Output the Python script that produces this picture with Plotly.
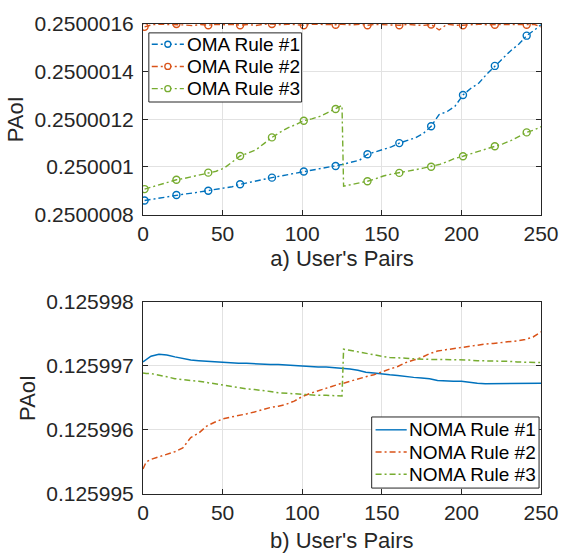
import plotly.graph_objects as go

# ---------------- data: panel a) OMA ----------------
x_top = [1, 6, 11, 16, 21, 26, 31, 36, 41, 46, 51, 56, 61, 66, 71, 76, 81, 86, 91, 96,
         101, 106, 111, 116, 121, 125, 126, 131, 136, 141, 146, 151, 156, 161, 166, 171,
         176, 181, 186, 191, 196, 201, 206, 211, 216, 221, 226, 231, 236, 241, 246, 250]

oma_rule1 = [0.250000859, 0.250000865, 0.250000871, 0.250000877, 0.250000882, 0.250000886,
             0.250000890, 0.250000895, 0.250000900, 0.250000904, 0.250000909, 0.250000917,
             0.250000927, 0.250000935, 0.250000942, 0.250000948, 0.250000955, 0.250000961,
             0.250000967, 0.250000974, 0.250000981, 0.250000986, 0.250000992, 0.250000998,
             0.250001004, 0.250001010, 0.250001012, 0.250001020, 0.250001028, 0.250001053,
             0.250001063, 0.250001072, 0.250001084, 0.250001100, 0.250001110, 0.250001122,
             0.250001140, 0.250001171, 0.250001220, 0.250001232, 0.250001255, 0.250001302,
             0.250001330, 0.250001352, 0.250001390, 0.250001424, 0.250001455, 0.250001488,
             0.250001515, 0.250001551, 0.250001575, 0.250001597]

oma_rule2 = [0.250001588, 0.250001597, 0.250001599, 0.250001598, 0.250001600, 0.250001596,
             0.250001593, 0.250001598, 0.250001595, 0.250001599, 0.250001597, 0.250001599,
             0.250001595, 0.250001598, 0.250001594, 0.250001599, 0.250001600, 0.250001597,
             0.250001599, 0.250001596, 0.250001595, 0.250001599, 0.250001598, 0.250001599,
             0.250001597, 0.250001599, 0.250001598, 0.250001596, 0.250001599, 0.250001595,
             0.250001598, 0.250001597, 0.250001593, 0.250001595, 0.250001598, 0.250001596,
             0.250001594, 0.250001598, 0.250001575, 0.250001599, 0.250001595, 0.250001595,
             0.250001598, 0.250001599, 0.250001597, 0.250001597, 0.250001599, 0.250001598,
             0.250001597, 0.250001597, 0.250001598, 0.250001588]

oma_rule3 = [0.250000907, 0.250000917, 0.250000927, 0.250000937, 0.250000946, 0.250000952,
             0.250000960, 0.250000968, 0.250000976, 0.250000982, 0.250000995, 0.250001020,
             0.250001046, 0.250001058, 0.250001072, 0.250001098, 0.250001124, 0.250001145,
             0.250001164, 0.250001178, 0.250001194, 0.250001202, 0.250001212, 0.250001228,
             0.250001243, 0.250001258, 0.250000919, 0.250000925, 0.250000932, 0.250000940,
             0.250000950, 0.250000962, 0.250000970, 0.250000975, 0.250000980, 0.250000988,
             0.250000995, 0.250001001, 0.250001010, 0.250001022, 0.250001036, 0.250001045,
             0.250001055, 0.250001066, 0.250001076, 0.250001087, 0.250001097, 0.250001110,
             0.250001128, 0.250001145, 0.250001156, 0.250001169]

# ---------------- data: panel b) NOMA ----------------
x_bot = [0, 2, 5, 10, 15, 20, 25, 30, 35, 40, 45, 50, 55, 60, 65, 70, 75, 80, 85, 90, 95,
         100, 105, 110, 115, 120, 125, 126, 130, 135, 140, 145, 150, 155, 160, 165, 170,
         175, 180, 185, 190, 195, 200, 205, 210, 215, 220, 225, 230, 235, 240, 245, 250]

noma_rule1 = [0.12599706, 0.12599710, 0.12599715, 0.12599718, 0.12599717, 0.12599714,
              0.12599711, 0.12599709, 0.12599708, 0.12599707, 0.12599706, 0.12599705,
              0.12599705, 0.12599704, 0.12599704, 0.12599703, 0.12599703, 0.12599702,
              0.12599702, 0.12599701, 0.12599700, 0.12599699, 0.12599699, 0.12599698,
              0.12599698, 0.12599697, 0.12599696, 0.12599696, 0.12599695, 0.12599693,
              0.12599690, 0.12599689, 0.12599687, 0.12599686, 0.12599685, 0.12599683,
              0.12599682, 0.12599681, 0.12599680, 0.12599677, 0.12599676, 0.12599676,
              0.12599676, 0.12599674, 0.12599673, 0.12599672, 0.12599672, 0.12599672,
              0.12599672, 0.12599673, 0.12599673, 0.12599673, 0.12599673]

noma_rule2 = [0.12599539, 0.12599550, 0.12599554, 0.12599558, 0.12599562, 0.12599566,
              0.12599572, 0.12599588, 0.12599595, 0.12599606, 0.12599612, 0.12599617,
              0.12599620, 0.12599622, 0.12599625, 0.12599628, 0.12599632, 0.12599635,
              0.12599637, 0.12599640, 0.12599645, 0.12599652, 0.12599657, 0.12599661,
              0.12599666, 0.12599670, 0.12599673, 0.12599673, 0.12599676, 0.12599679,
              0.12599683, 0.12599686, 0.12599691, 0.12599695, 0.12599699, 0.12599705,
              0.12599709, 0.12599713, 0.12599719, 0.12599723, 0.12599725, 0.12599727,
              0.12599729, 0.12599731, 0.12599733, 0.12599734, 0.12599735, 0.12599736,
              0.12599737, 0.12599739, 0.12599741, 0.12599745, 0.12599753]

noma_rule3 = [0.12599689, 0.12599688, 0.12599688, 0.12599686, 0.12599683, 0.12599680,
              0.12599678, 0.12599677, 0.12599676, 0.12599674, 0.12599672, 0.12599670,
              0.12599668, 0.12599665, 0.12599664, 0.12599663, 0.12599662, 0.12599660,
              0.12599658, 0.12599657, 0.12599656, 0.12599655, 0.12599655, 0.12599654,
              0.12599654, 0.12599654, 0.12599653, 0.12599726, 0.12599724, 0.12599722,
              0.12599720, 0.12599717, 0.12599715, 0.12599713, 0.12599713, 0.12599712,
              0.12599711, 0.12599710, 0.12599710, 0.12599710, 0.12599710, 0.12599709,
              0.12599709, 0.12599709, 0.12599708, 0.12599708, 0.12599708, 0.12599707,
              0.12599707, 0.12599706, 0.12599706, 0.12599706, 0.12599705]

# ---------------- ticks / labels ----------------
x_ticks = [0, 50, 100, 150, 200, 250]
top_yticks = [0.2500008, 0.2500010, 0.2500012, 0.2500014, 0.2500016]
top_yticktext = ["0.2500008", "0.250001", "0.2500012", "0.2500014", "0.2500016"]
bot_yticks = [0.125995, 0.125996, 0.125997, 0.125998]
bot_yticktext = ["0.125995", "0.125996", "0.125997", "0.125998"]

top_names = ["OMA Rule #1", "OMA Rule #2", "OMA Rule #3"]
bot_names = ["NOMA Rule #1", "NOMA Rule #2", "NOMA Rule #3"]
top_xtitle = "a) User's Pairs"
bot_xtitle = "b) User's Pairs"
ytitle = "PAoI"
marker_every = 20  # markers at x = 1, 21, 41, ...

colors = ["#0072BD", "#D95319", "#77AC30"]
DASHDOT = "6px,3px,2px,3px"
FONT = "Liberation Sans, Arial, Helvetica, sans-serif"
AX = "#262626"

# ---------------- page geometry (pixels) ----------------
W, H = 571, 556
ML, MR, MT, MB = 143, 19, 18, 62
PW, PH = W - ML - MR, H - MT - MB


def px_x(p):
    return (p - ML) / PW


def px_y(p):
    return 1 - (p - MT) / PH


fig = go.Figure()

# panel a
for name, ys, col in zip(top_names, [oma_rule1, oma_rule2, oma_rule3], colors):
    fig.add_trace(go.Scatter(x=x_top, y=ys, mode="lines", xaxis="x", yaxis="y",
                             name=name, line=dict(color=col, width=1.4, dash=DASHDOT),
                             showlegend=False))
    mx = [xv for xv in x_top if xv % marker_every == 1]
    my = [yv for xv, yv in zip(x_top, ys) if xv % marker_every == 1]
    fig.add_trace(go.Scatter(x=mx, y=my, mode="markers", xaxis="x", yaxis="y",
                             name=name,
                             marker=dict(symbol="circle-open", size=7, color=col,
                                         line=dict(width=1.4, color=col)),
                             showlegend=False))

# panel b
bot_dash = ["solid", DASHDOT, DASHDOT]
for name, ys, col, dsh in zip(bot_names, [noma_rule1, noma_rule2, noma_rule3], colors, bot_dash):
    fig.add_trace(go.Scatter(x=x_bot, y=ys, mode="lines", xaxis="x2", yaxis="y2",
                             name=name, showlegend=False,
                             line=dict(color=col, width=1.5, dash=dsh)))

# ---------------- legends (box + sample lines + text) ----------------
shapes = []
annotations = []


def hline(xa, xb, y, color, width=1, dash="solid"):
    shapes.append(dict(type="line", xref="paper", yref="paper",
                       x0=px_x(xa), x1=px_x(xb), y0=px_y(y), y1=px_y(y),
                       line=dict(color=color, width=width, dash=dash), layer="above"))


def vline(x, ya, yb, color, width=1):
    shapes.append(dict(type="line", xref="paper", yref="paper",
                       x0=px_x(x), x1=px_x(x), y0=px_y(ya), y1=px_y(yb),
                       line=dict(color=color, width=width), layer="above"))


def add_legend(box, rows_y, line_x, text_x, names, dashes, with_marker):
    x0, y0, x1, y1 = box
    shapes.append(dict(type="rect", xref="paper", yref="paper",
                       x0=px_x(x0), x1=px_x(x1), y0=px_y(y1), y1=px_y(y0),
                       fillcolor="white", line=dict(width=0), layer="above"))
    hline(x0, x1, y0, AX)
    hline(x0, x1, y1, AX)
    vline(x0, y0, y1, AX)
    vline(x1, y0, y1, AX)
    for ry, name, col, dsh in zip(rows_y, names, colors, dashes):
        hline(line_x[0], line_x[1], ry, col, 1.4, dsh)
        if with_marker:
            cx = (line_x[0] + line_x[1]) / 2
            shapes.append(dict(type="circle", xref="paper", yref="paper",
                               xsizemode="pixel", ysizemode="pixel",
                               xanchor=px_x(cx), yanchor=px_y(ry),
                               x0=-3, x1=3, y0=-3, y1=3,
                               fillcolor="white", line=dict(color=col, width=1.3), layer="above"))
        annotations.append(dict(xref="paper", yref="paper", x=px_x(text_x), y=px_y(ry),
                                xanchor="left", yanchor="middle", showarrow=False,
                                text=name, font=dict(family=FONT, size=19, color="black")))


add_legend((149, 27, 306, 97), [38.5, 61, 83.5], (152, 185), 186, top_names,
           [DASHDOT] * 3, True)
add_legend((378, 416, 550, 488), [429, 451.5, 474], (382, 414), 414, bot_names,
           bot_dash, False)

# x-axis title of panel b (placed explicitly below its tick labels)
annotations.append(dict(xref="paper", yref="paper", x=0.5, y=px_y(541),
                        xanchor="center", yanchor="middle", showarrow=False,
                        text=bot_xtitle, font=dict(family=FONT, size=22, color=AX)))

axis_common = dict(
    showline=True, linecolor=AX, linewidth=1, mirror="ticks",
    ticks="inside", ticklen=5, tickcolor=AX, tickwidth=1,
    showgrid=True, gridcolor="#E2E2E2", gridwidth=1, zeroline=False,
    tickfont=dict(family=FONT, size=21, color=AX),
)

top_lo = px_y(211)
bot_hi = px_y(299.3)

fig.update_layout(
    width=W, height=H,
    margin=dict(l=ML, r=MR, t=MT, b=MB),
    paper_bgcolor="white", plot_bgcolor="white",
    font=dict(family=FONT, color=AX),
    showlegend=False,
    xaxis=dict(domain=[0, 1], range=[0, 250], tickvals=x_ticks, anchor="y",
               title=dict(text=top_xtitle, font=dict(family=FONT, size=22, color=AX), standoff=6),
               **axis_common),
    yaxis=dict(domain=[top_lo, 1], range=[top_yticks[0], top_yticks[-1]], anchor="x",
               tickvals=top_yticks, ticktext=top_yticktext, ticklabelstandoff=4,
               title=dict(text=ytitle, font=dict(family=FONT, size=22, color=AX), standoff=4),
               **axis_common),
    xaxis2=dict(domain=[0, 1], range=[0, 250], tickvals=x_ticks, anchor="y2",
                **axis_common),
    yaxis2=dict(domain=[0, bot_hi], range=[bot_yticks[0], bot_yticks[-1]], anchor="x2",
                tickvals=bot_yticks, ticktext=bot_yticktext, ticklabelstandoff=4,
                title=dict(text=ytitle, font=dict(family=FONT, size=22, color=AX), standoff=4),
                **axis_common),
    shapes=shapes,
    annotations=annotations,
)

fig.write_html("out.html", config={"displayModeBar": False},
               post_script="document.body.style.margin='0px';")
